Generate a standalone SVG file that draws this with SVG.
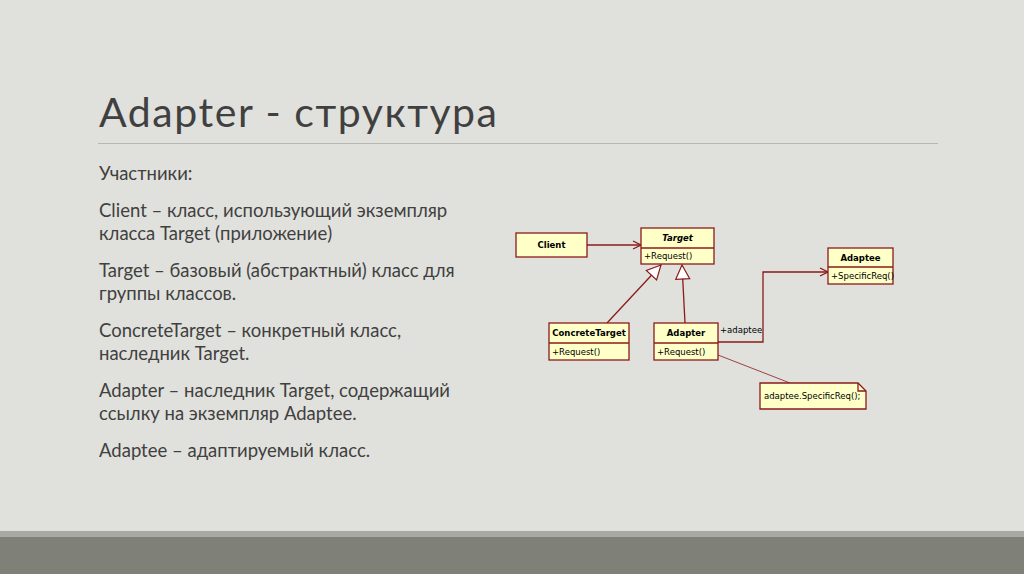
<svg xmlns="http://www.w3.org/2000/svg" width="1024" height="574" viewBox="0 0 1024 574">
<style>
.t{font-family:Lato,"Open Sans",sans-serif;fill:#404040;font-size:18.5px}
.box{fill:#ffffc8;stroke:#8b1a1a;stroke-width:1.3}
.u{font-family:"DejaVu Sans",sans-serif;font-size:8.5px;fill:#000}
.b{font-weight:bold}
.ln{stroke:#8b1a1a;stroke-width:1.3;fill:none}
</style>
<defs>
<marker id="open" markerWidth="10" markerHeight="10" refX="9" refY="5" orient="auto" markerUnits="userSpaceOnUse"><path d="M1,1 L9,5 L1,9" fill="none" stroke="#8b1a1a" stroke-width="1.3"/></marker>
<marker id="tri" markerWidth="16" markerHeight="18" refX="15" refY="8" orient="auto" markerUnits="userSpaceOnUse"><path d="M15,8 L1,1 L1,15 Z" fill="#fff" stroke="#8b1a1a" stroke-width="1.2"/></marker>
</defs>
<rect width="1024" height="574" fill="#e0e1dc"/>
<rect y="531" width="1024" height="6" fill="#a8a9a3"/>
<rect y="537" width="1024" height="37" fill="#7f8078"/>
<text x="99" y="127" font-family="Lato,'Open Sans',sans-serif" font-size="41" fill="#404040" textLength="398">Adapter - структура</text>
<line x1="98" y1="143.5" x2="938" y2="143.5" stroke="#b8b8b2" stroke-width="1.2"/>
<g class="t">
<text x="99" y="180">Участники:</text>
<text x="99" y="217">Client – класс, использующий экземпляр</text>
<text x="99" y="240">класса Target (приложение)</text>
<text x="99" y="277">Target – базовый (абстрактный) класс для</text>
<text x="99" y="300">группы классов.</text>
<text x="99" y="337">ConcreteTarget – конкретный класс,</text>
<text x="99" y="360">наследник Target.</text>
<text x="99" y="397">Adapter – наследник Target, содержащий</text>
<text x="99" y="420">ссылку на экземпляр Adaptee.</text>
<text x="99" y="457">Adaptee – адаптируемый класс.</text>
</g>
<g id="connectors">
<line class="ln" x1="587" y1="245" x2="641" y2="245" marker-end="url(#open)"/>
<line class="ln" x1="607" y1="323" x2="661" y2="265" marker-end="url(#tri)"/>
<line class="ln" x1="685" y1="323" x2="682" y2="265" marker-end="url(#tri)"/>
<polyline class="ln" points="718,342 763,342 763,272 828,272" marker-end="url(#open)"/>
<text class="u" x="720" y="333">+adaptee</text>
<line x1="718" y1="355" x2="790" y2="383" stroke="#8b1a1a" stroke-width="0.8"/>
</g>
<g id="client"><rect class="box" x="516" y="233" width="71" height="24"/><text class="u b" x="551.5" y="248" text-anchor="middle">Client</text></g>
<g id="target"><rect class="box" x="641" y="228" width="73" height="36"/><line class="ln" x1="641" y1="248" x2="714" y2="248"/><text class="u b" x="677.5" y="241" text-anchor="middle" font-style="italic">Target</text><text class="u" x="644" y="259">+Request()</text></g>
<g id="adaptee"><rect class="box" x="828" y="248" width="65" height="36"/><line class="ln" x1="828" y1="267" x2="893" y2="267"/><text class="u b" x="860.5" y="261" text-anchor="middle">Adaptee</text><text class="u" x="831" y="279">+SpecificReq()</text></g>
<g id="concretetarget"><rect class="box" x="549" y="323" width="80" height="37"/><line class="ln" x1="549" y1="343" x2="629" y2="343"/><text class="u b" x="589" y="336" text-anchor="middle">ConcreteTarget</text><text class="u" x="552" y="355">+Request()</text></g>
<g id="adapter"><rect class="box" x="654" y="323" width="64" height="37"/><line class="ln" x1="654" y1="343" x2="718" y2="343"/><text class="u b" x="686" y="336" text-anchor="middle">Adapter</text><text class="u" x="657" y="355">+Request()</text></g>
<g id="note"><path class="box" d="M760,383 L858,383 L866,391 L866,409 L760,409 Z"/><path class="ln" d="M858,383 L858,391 L866,391"/><text class="u" x="764" y="399">adaptee.SpecificReq();</text></g>
</svg>
